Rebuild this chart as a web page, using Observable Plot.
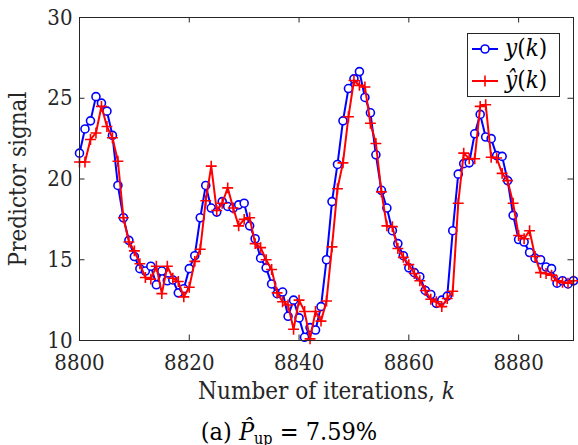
<!DOCTYPE html>
<html>
<head>
<meta charset="utf-8">
<script src="https://cdn.jsdelivr.net/npm/d3@7"></script>
<script src="https://cdn.jsdelivr.net/npm/@observablehq/plot@0.6"></script>
<style>
  html, body { margin: 0; padding: 0; background: #fff; }
  #wrap { position: relative; width: 578px; height: 445px; overflow: hidden; font-family: "DejaVu Serif Condensed", "DejaVu Serif", serif; font-stretch: condensed; color: #262626; }
  #legend { position: absolute; left: 467px; top: 33px; width: 93px; height: 64px; box-sizing: border-box; border: 1px solid #262626; background: #fff; }
  #legend svg { position: absolute; left: 0; top: 0; }
  #legend .lab { position: absolute; left: 37px; font-size: 24px; line-height: 25px; white-space: nowrap; color: #000; }
  #caption { margin-top: 0px; text-align: center; font-size: 25px; line-height: 27px; color: #000; white-space: nowrap; }
  #caption sub { font-size: 16px; vertical-align: -4px; line-height: 0; }
</style>
</head>
<body>
<div id="wrap">
  <div id="chart"></div>
  <div id="caption">(a) <i>P&#x0302;</i><sub>up</sub> = 7.59%</div>
  <div id="legend">
    <svg width="93" height="64">
      <line x1="4" x2="30" y1="15" y2="15" stroke="#0000ff" stroke-width="2"></line>
      <circle cx="17" cy="15" r="4" fill="#fff" stroke="#0000ff" stroke-width="1.6"></circle>
      <line x1="4" x2="30" y1="47" y2="47" stroke="#ff0000" stroke-width="2"></line>
      <path d="M11.5,47H22.5M17,41.5V52.5" stroke="#ff0000" stroke-width="1.6" fill="none"></path>
    </svg>
    <div class="lab" style="top:2px"><i>y</i>(<i>k</i>)</div>
    <div class="lab" style="top:34px"><i>ŷ</i>(<i>k</i>)</div>
  </div>
</div>
<script>
// iteration index k
const iterations = [
  8800,8801,8802,8803,8804,8805,8806,8807,8808,8809,
  8810,8811,8812,8813,8814,8815,8816,8817,8818,8819,
  8820,8821,8822,8823,8824,8825,8826,8827,8828,8829,
  8830,8831,8832,8833,8834,8835,8836,8837,8838,8839,
  8840,8841,8842,8843,8844,8845,8846,8847,8848,8849,
  8850,8851,8852,8853,8854,8855,8856,8857,8858,8859,
  8860,8861,8862,8863,8864,8865,8866,8867,8868,8869,
  8870,8871,8872,8873,8874,8875,8876,8877,8878,8879,
  8880,8881,8882,8883,8884,8885,8886,8887,8888,8889,
  8890
];
// y(k) – measured signal (blue circles)
const ySignal = [
  21.6,23.1,23.6,25.1,24.7,24.2,22.7,19.6,17.6,16.2,
  15.2,14.45,14.3,14.6,13.45,14.3,13.7,13.75,12.95,13.2,
  14.45,15.25,17.6,19.6,18.2,17.95,18.6,18.3,18.2,18.4,
  18.5,17.1,16.3,15.1,14.5,13.5,12.9,13.0,11.5,12.5,
  11.4,10.2,10.8,10.65,12.1,15.0,18.6,20.9,23.6,25.6,
  26.2,26.65,25.05,24.1,21.5,19.3,18.2,16.8,16.0,15.25,
  14.5,14.2,13.95,13.1,12.85,12.3,12.5,12.75,16.8,20.3,
  20.95,21.0,22.8,24.0,22.6,22.5,21.45,21.4,19.9,17.75,
  16.25,16.1,15.45,15.1,15.0,14.55,14.45,13.55,13.7,13.5,
  13.7
];
// ŷ(k) – predicted signal (red plus)
const yPredicted = [
  21.05,21.05,22.45,22.85,24.5,23.25,22.55,21.1,17.6,16.1,
  15.55,14.75,13.9,13.8,14.6,12.9,14.6,13.85,13.65,12.7,
  13.3,14.9,15.65,18.65,20.8,18.05,18.5,19.45,18.2,17.1,
  17.5,17.6,16.0,15.75,15.0,14.4,12.95,12.4,12.2,10.7,
  12.5,11.8,10.1,11.8,11.2,12.45,15.8,19.4,21.0,23.85,
  26.1,25.8,25.7,23.45,22.2,19.2,17.1,17.05,15.7,15.15,
  14.7,14.15,13.7,13.1,12.55,12.4,12.1,12.6,13.05,18.5,
  21.6,21.25,21.25,24.5,24.6,21.35,21.3,20.35,19.9,18.5,
  16.5,16.3,16.8,15.2,14.2,14.15,14.05,13.7,13.6,13.55,
  13.7
];
const xTicks = [8800, 8820, 8840, 8860, 8880];
const yTicks = [10, 15, 20, 25, 30];
const xDomain = [8800, 8890];
const yDomain = [10, 30];

const rows = iterations.map((k, i) => ({k, y: ySignal[i], yhat: yPredicted[i]}));

const W = 578, H = 418, ML = 79, MR = 5, MT = 17, MB = 78;
const plotW = W - ML - MR, plotH = H - MT - MB, TL = 5.5;
const axisColor = "#262626";
const serif = '"DejaVu Serif Condensed", "DejaVu Serif", serif';

const chart = Plot.plot({
  width: W, height: H,
  marginLeft: ML, marginRight: MR, marginTop: MT, marginBottom: MB,
  style: {fontFamily: serif, fontSize: "22px", color: axisColor, background: "#fff", overflow: "visible"},
  x: {domain: xDomain},
  y: {domain: yDomain},
  marks: [
    Plot.axisX({ticks: xTicks, tickSize: 0, tickPadding: 14, tickFormat: d => String(d), fontSize: 22,
      label: "Number of iterations, k", labelAnchor: "center", labelOffset: 58, labelArrow: "none"}),
    Plot.axisY({ticks: yTicks, tickSize: 0, tickPadding: 7, tickFormat: d => String(d), fontSize: 22,
      label: "Predictor signal", labelAnchor: "center", labelOffset: 71, labelArrow: "none"}),
    // inward tick marks on all four sides
    Plot.tickX(xTicks, {x: d => d, stroke: axisColor, insetTop: plotH - TL}),
    Plot.tickX(xTicks, {x: d => d, stroke: axisColor, insetBottom: plotH - TL}),
    Plot.tickY(yTicks, {y: d => d, stroke: axisColor, insetRight: plotW - TL}),
    Plot.tickY(yTicks, {y: d => d, stroke: axisColor, insetLeft: plotW - TL}),
    Plot.line(rows, {x: "k", y: "y", stroke: "#0000ff", strokeWidth: 2}),
    Plot.dot(rows, {x: "k", y: "y", r: 4, stroke: "#0000ff", strokeWidth: 1.6, fill: "#fff"}),
    Plot.line(rows, {x: "k", y: "yhat", stroke: "#ff0000", strokeWidth: 2}),
    Plot.dot(rows, {x: "k", y: "yhat", symbol: "plus", r: 3.6, stroke: "#ff0000", strokeWidth: 1.6}),
    Plot.frame({stroke: axisColor, strokeWidth: 1})
  ]
});
chart.style.fontStretch = "condensed";
document.getElementById("chart").appendChild(chart);

// style axis labels: larger font, italic k
const xl = chart.querySelector('[aria-label="x-axis label"]');
if (xl) {
  xl.setAttribute("font-size", "24");
  const t = xl.querySelector("text");
  if (t) {
    t.textContent = "Number of iterations, ";
    const ts = document.createElementNS("http://www.w3.org/2000/svg", "tspan");
    ts.setAttribute("font-style", "italic");
    ts.textContent = "k";
    t.appendChild(ts);
  }
}
const yl = chart.querySelector('[aria-label="y-axis label"]');
if (yl) yl.setAttribute("font-size", "24");
chart.querySelectorAll("text").forEach(t => t.setAttribute("fill", "#262626"));
</script>
</body>
</html>
